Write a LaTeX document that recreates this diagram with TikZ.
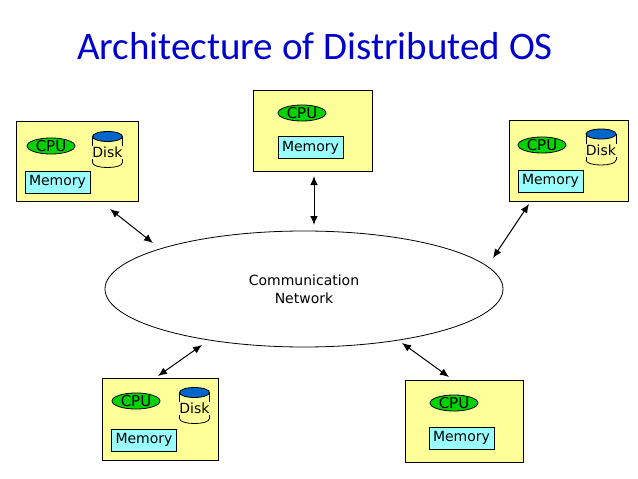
\documentclass[tikz,border=0pt]{standalone}
\usepackage{fontspec}
\setmainfont{DejaVu Sans}
\newfontfamily\titlefont{Carlito}
\usetikzlibrary{shapes.geometric,arrows.meta}
\definecolor{boxyellow}{RGB}{255,255,153}
\definecolor{cpugreen}{RGB}{0,210,0}
\definecolor{diskblue}{RGB}{0,102,204}
\definecolor{memcyan}{RGB}{153,255,255}
\definecolor{titleblue}{RGB}{0,0,204}
\tikzset{
  pcbox/.style={draw, line width=1pt, fill=boxyellow, minimum width=119pt, minimum height=81pt, inner sep=0pt},
  cpu/.style={ellipse, draw, line width=0.8pt, fill=cpugreen, minimum width=48pt, minimum height=15pt, inner sep=0pt, font=\fontsize{15}{15}\selectfont},
  memory/.style={draw, line width=0.8pt, fill=memcyan, minimum width=65pt, minimum height=22pt, inner sep=0pt, font=\fontsize{14}{14}\selectfont},
  link/.style={{Latex[length=9pt,width=7.5pt]}-{Latex[length=9pt,width=7.5pt]}, line width=1pt},
  disk/.pic={
    \draw[line width=0.8pt] (-15,0) -- (-15,26);
    \draw[line width=0.8pt] (15,0) -- (15,26);
    \draw[line width=0.8pt] (-15,26) .. controls (-15,32.7) and (15,32.7) .. (15,26);
    \draw[line width=0.8pt, fill=diskblue] (0,0) ellipse (15 and 5);
    \node[fill=boxyellow, inner sep=0pt, minimum width=32pt, minimum height=13pt, font=\fontsize{14}{14}\selectfont] at (0,16) {Disk};
  }
}

\begin{document}
\begin{tikzpicture}[x=1pt, y=-1pt]
  \useasboundingbox (0,0) rectangle (638,479);
  %%%%% TITLE %%%%%
  \node[text=titleblue, font=\titlefont\fontsize{39}{39}\selectfont] (title) at (315,46) {Architecture of Distributed OS};

  %%%%% NETWORK %%%%%
  \node[ellipse, draw, line width=0.8pt, minimum width=398pt, minimum height=116pt, align=center,
        font=\fontsize{14}{18}\selectfont] (net) at (304,289) {Communication\\Network};

  %%%%% COMPUTERS %%%%%
  \node[pcbox, minimum width=122pt, minimum height=80pt] (pcA) at (77,161) {};
  \node[cpu] (cpuA) at (51,146) {CPU};
  \node[memory] (memA) at (57.5,182) {Memory};
  \pic at (107.5,136.5) {disk};

  \node[pcbox] (pcB) at (312.5,130.5) {};
  \node[cpu] (cpuB) at (302,113) {CPU};
  \node[memory] (memB) at (310.5,147.5) {Memory};

  \node[pcbox] (pcC) at (568.5,160.5) {};
  \node[cpu] (cpuC) at (542,145) {CPU};
  \node[memory] (memC) at (550.5,181) {Memory};
  \pic at (601,134) {disk};

  \node[pcbox, minimum width=116pt, minimum height=82pt] (pcD) at (160,419) {};
  \node[cpu] (cpuD) at (136,401) {CPU};
  \node[memory] (memD) at (144,440) {Memory};
  \pic at (194.5,392.5) {disk};

  \node[pcbox, minimum width=118pt, minimum height=82pt] (pcE) at (464,421) {};
  \node[cpu] (cpuE) at (454,403) {CPU};
  \node[memory] (memE) at (461.5,438) {Memory};

  %%%%% LINKS %%%%%
  \coordinate (lA1) at (110,209); \coordinate (lA2) at (153,243);
  \coordinate (lB1) at (314,176); \coordinate (lB2) at (314,225);
  \coordinate (lC1) at (529,204); \coordinate (lC2) at (493,258);
  \coordinate (lD1) at (158,376); \coordinate (lD2) at (202,345);
  \coordinate (lE1) at (449,377); \coordinate (lE2) at (402,343);
  \draw[link] (lA1) -- (lA2);
  \draw[link] (lB1) -- (lB2);
  \draw[link] (lC1) -- (lC2);
  \draw[link] (lD1) -- (lD2);
  \draw[link] (lE1) -- (lE2);
\end{tikzpicture}
\end{document}
